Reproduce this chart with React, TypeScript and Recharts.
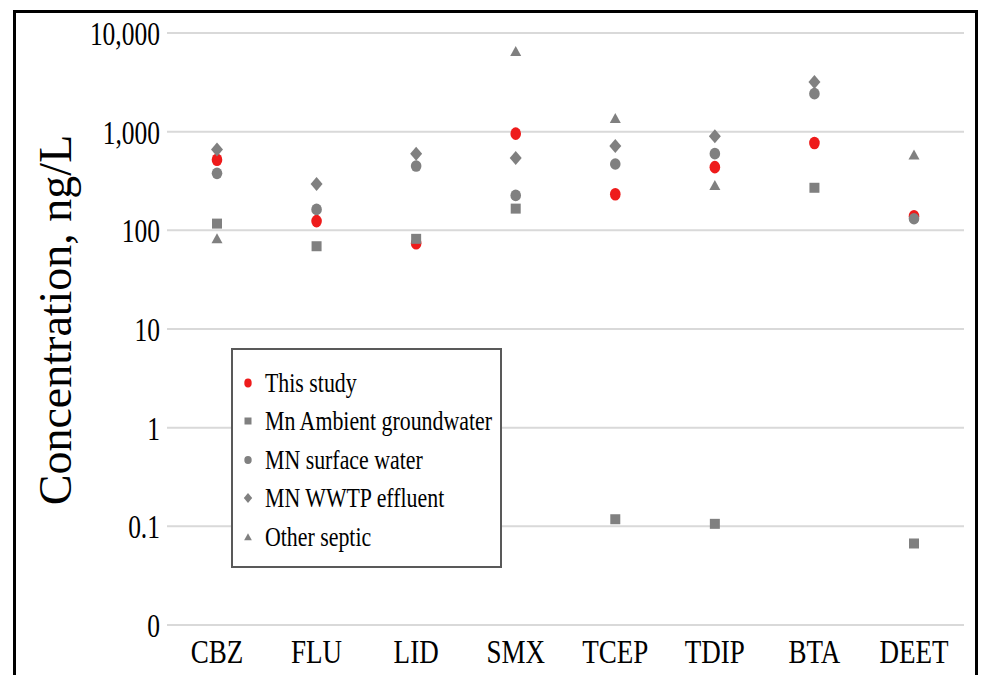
import React from 'react';
import { ComposedChart, Scatter, XAxis, YAxis, CartesianGrid, Legend } from 'recharts';

const categories = ['CBZ', 'FLU', 'LID', 'SMX', 'TCEP', 'TDIP', 'BTA', 'DEET'];
const thisStudy = [520, 124, 74, 955, 232, 437, 767, 139];
const mnAmbientGroundwater = [117, 69, 82, 166, 0.118, 0.106, 270, 0.067];
const mnSurfaceWater = [378, 163, 448, 226, 470, 599, 2427, 131];
const mnWwtpEffluent: (number | null)[] = [660, 294, 599, 540, 714, 896, 3184, null];
const otherSeptic: (number | null)[] = [82, null, null, 6500, 1360, 285, null, 580];

const yTicks = [0.01, 0.1, 1, 10, 100, 1000, 10000];
const yTickLabels = ['0', '0.1', '1', '10', '100', '1,000', '10,000'];

const seriesNames = ['This study', 'Mn Ambient groundwater', 'MN surface water', 'MN WWTP effluent', 'Other septic'];
const seriesKeys = ['thisStudy', 'ambient', 'surface', 'wwtp', 'septic'];

const data = categories.map((name, i) => ({
  name,
  thisStudy: thisStudy[i],
  ambient: mnAmbientGroundwater[i],
  surface: mnSurfaceWater[i],
  wwtp: mnWwtpEffluent[i],
  septic: otherSeptic[i],
}));

const RED = '#ee1b1b';
const GRAY = '#808080';
const FONT = '"Liberation Serif", "Times New Roman", serif';

type Kind = 'redDot' | 'square' | 'circle' | 'diamond' | 'triangle';
const kinds: Kind[] = ['redDot', 'square', 'circle', 'diamond', 'triangle'];
const colors = [RED, GRAY, GRAY, GRAY, GRAY];

function drawMarker(kind: Kind, cx: number, cy: number, s: number, color: string) {
  switch (kind) {
    case 'redDot':
      return <ellipse cx={cx} cy={cy} rx={5.3 * s} ry={6.3 * s} fill={color} />;
    case 'circle':
      return <ellipse cx={cx} cy={cy} rx={5.3 * s} ry={5.8 * s} fill={color} />;
    case 'square':
      return <rect x={cx - 5 * s} y={cy - 5 * s} width={10 * s} height={10 * s} fill={color} />;
    case 'diamond':
      return (
        <polygon
          points={`${cx},${cy - 7 * s} ${cx + 6 * s},${cy} ${cx},${cy + 7 * s} ${cx - 6 * s},${cy}`}
          fill={color}
        />
      );
    case 'triangle':
      return (
        <polygon
          points={`${cx},${cy - 5.5 * s} ${cx + 5.5 * s},${cy + 4.5 * s} ${cx - 5.5 * s},${cy + 4.5 * s}`}
          fill={color}
        />
      );
  }
}

const makeShape = (kind: Kind, color: string, key: string) => (props: any) => {
  const { cx, cy, payload } = props;
  if (!payload || payload[key] == null || !Number.isFinite(cx) || !Number.isFinite(cy)) return <g />;
  return drawMarker(kind, cx, cy, 1, color);
};

const YTick = (props: any) => {
  const { x, y, payload } = props;
  const i = yTicks.findIndex((t) => Math.abs(Math.log10(t) - Math.log10(payload.value)) < 1e-6);
  const label = i >= 0 ? yTickLabels[i] : String(payload.value);
  return (
    <text
      transform={`translate(${x + 1},${y + 12}) scale(0.75,1)`}
      textAnchor="end"
      fontFamily={FONT}
      fontSize={34}
      fill="#000"
    >
      {label}
    </text>
  );
};

const XTick = (props: any) => {
  const { x, y, payload } = props;
  return (
    <text
      transform={`translate(${x},${y + 30}) scale(0.82,1)`}
      textAnchor="middle"
      fontFamily={FONT}
      fontSize={33}
      fill="#000"
    >
      {payload.value}
    </text>
  );
};

const YLabel = () => (
  <text
    transform="translate(71,320) rotate(-90)"
    textAnchor="middle"
    fontFamily={FONT}
    fontSize={46}
    fill="#000"
  >
    Concentration, ng/L
  </text>
);

const LegendBox = () => {
  const rows = [35, 73, 112, 150, 189];
  return (
    <svg width={271} height={220} style={{ display: 'block' }}>
      <rect x={1} y={1} width={269} height={218} fill="#fff" stroke="#595959" strokeWidth={2} />
      {seriesNames.map((n, i) => (
        <g key={n}>
          {drawMarker(kinds[i], 17, rows[i], 0.7, colors[i])}
          <text
            transform={`translate(34,${rows[i] + 9}) scale(0.81,1)`}
            fontFamily={FONT}
            fontSize={27}
            fill="#000"
          >
            {n}
          </text>
        </g>
      ))}
    </svg>
  );
};

export default function App() {
  return (
    <div
      style={{
        position: 'fixed',
        left: 0,
        top: 0,
        width: 981,
        height: 675,
        overflow: 'hidden',
        background: '#fff',
      }}
    >
      <ComposedChart
        width={981}
        height={675}
        data={data}
        margin={{ top: 33, right: 17, bottom: 0, left: 0 }}
      >
        <CartesianGrid vertical={false} stroke="#d9d9d9" strokeWidth={2} />
        <XAxis
          dataKey="name"
          type="category"
          axisLine={false}
          tickLine={false}
          interval={0}
          height={50}
          padding={{ left: 50, right: 50 }}
          tick={<XTick />}
        />
        <YAxis
          type="number"
          scale="log"
          domain={[0.01, 10000]}
          ticks={yTicks}
          allowDataOverflow
          axisLine={false}
          tickLine={false}
          width={167}
          tick={<YTick />}
          label={YLabel}
        />
        <Legend
          layout="vertical"
          align="center"
          verticalAlign="middle"
          content={LegendBox}
          wrapperStyle={{ left: 231, top: 348, width: 271, height: 220 }}
        />
        {seriesKeys.map((k, i) => (
          <Scatter
            key={k}
            name={seriesNames[i]}
            dataKey={k}
            fill={colors[i]}
            isAnimationActive={false}
            shape={makeShape(kinds[i], colors[i], k)}
          />
        ))}
      </ComposedChart>
      <div
        style={{
          position: 'absolute',
          left: 13,
          top: 10,
          width: 959,
          height: 700,
          borderLeft: '3px solid #000',
          borderTop: '3px solid #000',
          borderRight: '3px solid #000',
          pointerEvents: 'none',
        }}
      />
    </div>
  );
}
